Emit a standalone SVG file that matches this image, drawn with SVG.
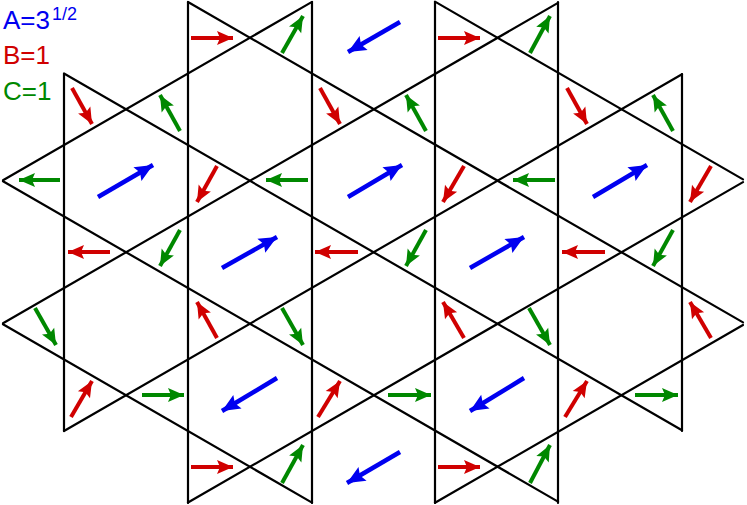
<svg xmlns="http://www.w3.org/2000/svg" width="747" height="505" viewBox="0 0 747 505">
<style>
.l{stroke:#000;stroke-width:2.2;fill:none;stroke-linecap:round}
.r{stroke:#d00000;stroke-width:4;stroke-dasharray:70 100;marker-end:url(#mr)}
.g{stroke:#008800;stroke-width:4;stroke-dasharray:70 100;marker-end:url(#mg)}
.b{stroke:#0000f0;stroke-width:4.5;stroke-dasharray:78 100;marker-end:url(#mb)}
text{font-family:"Liberation Sans",Arial,sans-serif}
</style>
<defs>
<marker id="mr" markerUnits="userSpaceOnUse" orient="auto" refX="16" refY="0" markerWidth="20" markerHeight="20" viewBox="0 -10 20 20" overflow="visible"><path d="M0,-7 L16,0 L0,7 L3,0z" fill="#d00000"/></marker>
<marker id="mg" markerUnits="userSpaceOnUse" orient="auto" refX="16" refY="0" markerWidth="20" markerHeight="20" viewBox="0 -10 20 20" overflow="visible"><path d="M0,-7 L16,0 L0,7 L3,0z" fill="#008800"/></marker>
<marker id="mb" markerUnits="userSpaceOnUse" orient="auto" refX="18" refY="0" markerWidth="20" markerHeight="20" viewBox="0 -10 20 20" overflow="visible"><path d="M0,-8 L18,0 L0,8 L3,0z" fill="#0000f0"/></marker>
</defs>
<g id="lattice" class="l">
<path d="M64,74V431M188,2V503M312,2V503M435,2V503M558,2V503M682,74V431"/>
<path d="M435,1.6L743,179.4M188,2L743,322.4M64,73.5L682,430.3M3,181.2L558,501.6M3,324.2L312,502.6"/>
<path d="M3,180.3L312,1.9M3,323.3L558,2.9M64,431L682,74.2M188,502.5L743,182.1M435,502.8L743,325"/>
</g>
<g id="arrows">
<path class="b" d="M400,22L348,52"/><path class="b" d="M98,197L153,165"/><path class="b" d="M222,268L277,237"/>
<path class="b" d="M348,197L402,165"/><path class="b" d="M470,268L524,237"/><path class="b" d="M593,197L647,165"/>
<path class="b" d="M277,378L222,411"/><path class="b" d="M400,452L347,483"/><path class="b" d="M524,378L470,411"/>
<path class="r" d="M191,38L233,38"/><path class="r" d="M438,38L480,38"/>
<path class="r" d="M72,88L92,124"/><path class="r" d="M320,88L340,124"/><path class="r" d="M567,88L587,124"/>
<path class="r" d="M217,166L197,202"/><path class="r" d="M464,166L443,202"/><path class="r" d="M711,166L690,202"/>
<path class="r" d="M110,252L68,252"/><path class="r" d="M358,252L315,252"/><path class="r" d="M605,252L562,252"/>
<path class="r" d="M217,338L197,302"/><path class="r" d="M464,338L443,302"/><path class="r" d="M711,338L690,302"/>
<path class="r" d="M71,417L92,381"/><path class="r" d="M318,417L340,381"/><path class="r" d="M565,417L587,381"/>
<path class="r" d="M191,467L233,467"/><path class="r" d="M438,467L480,467"/>
<path class="g" d="M282,53L303,16"/><path class="g" d="M530,53L550,16"/>
<path class="g" d="M180,131L160,95"/><path class="g" d="M426,131L406,95"/><path class="g" d="M673,131L653,95"/>
<path class="g" d="M60,180L19,180"/><path class="g" d="M308,180L266,180"/><path class="g" d="M555,180L513,180"/>
<path class="g" d="M180,230L160,266"/><path class="g" d="M426,230L406,266"/><path class="g" d="M673,230L653,266"/>
<path class="g" d="M35,308L56,345"/><path class="g" d="M282,308L303,345"/><path class="g" d="M529,308L550,345"/>
<path class="g" d="M142,395L184,395"/><path class="g" d="M388,395L431,395"/><path class="g" d="M635,395L678,395"/>
<path class="g" d="M282,483L303,445"/><path class="g" d="M530,483L550,445"/>
</g>
<g id="legend">
<text x="3" y="29" font-size="26" fill="#0000f0">A=3</text>
<text x="52" y="20" font-size="18" fill="#0000f0">1/2</text>
<text x="3" y="64" font-size="26" fill="#d00000">B=1</text>
<text x="3" y="100" font-size="26" fill="#008800">C=1</text>
</g>
</svg>
